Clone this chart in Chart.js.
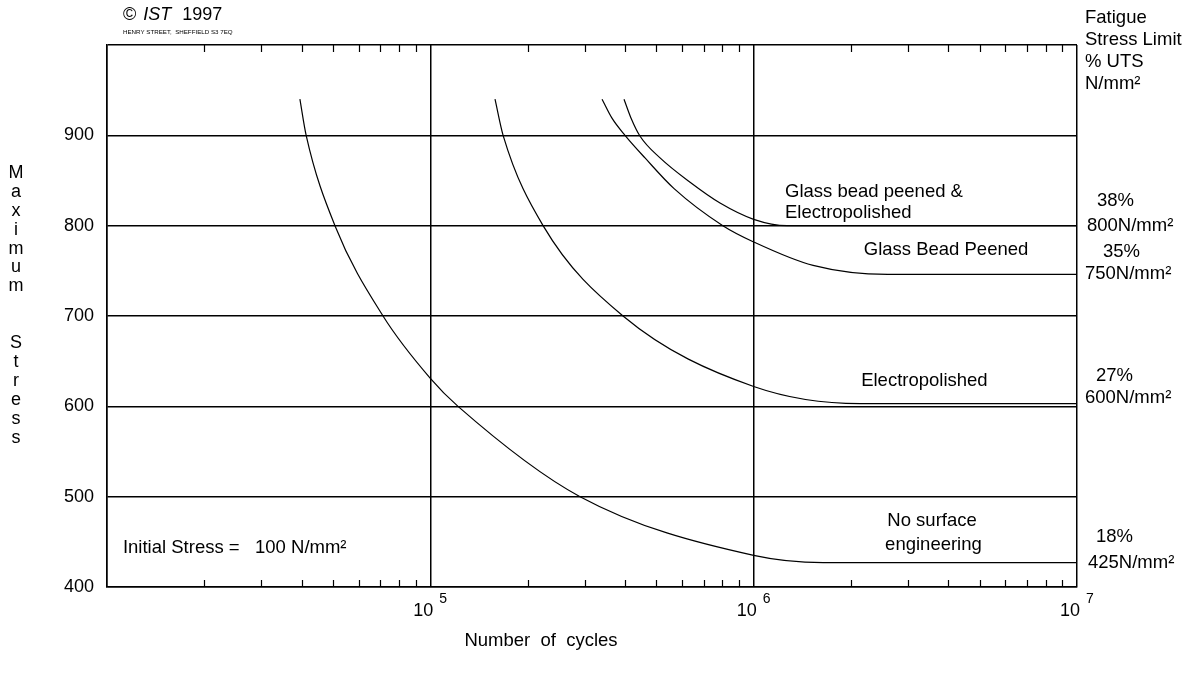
<!DOCTYPE html>
<html>
<head>
<meta charset="utf-8">
<script src="https://cdn.jsdelivr.net/npm/chart.js@4"></script>
<style>
  html, body { margin: 0; background: #fff; }
  #wrap { width: 1195px; height: 677px; }
</style>
</head>
<body>
<div id="wrap"><canvas id="fatigueChart"></canvas></div>
<script>
// S-N curves (cycles, max stress N/mm²)
const noSurfaceCycles = [39500, 41300, 50700, 71400, 100000, 121800, 290500, 1000000, 1640000, 10000000];
const noSurfaceStress = [940, 900, 800, 700, 631, 600, 500, 435, 427, 427];

const electroCycles = [158500, 167900, 223200, 394400, 1000000, 2134000, 10000000];
const electroStress = [940, 900, 800, 700, 622, 603, 603];

const peenedCycles = [339700, 364600, 400000, 461300, 567400, 803000, 1000000, 1527000, 2600000, 10000000];
const peenedStress = [940, 919, 900, 875, 841, 800, 782, 756, 746, 746];

const peenedElectroCycles = [397200, 417700, 445400, 513400, 635800, 787000, 1000000, 1268000, 10000000];
const peenedElectroStress = [940, 919, 899, 875, 848, 825, 807, 800, 800];

const yTicks = [400, 500, 600, 700, 800, 900, 1000];
const xDecades = [4, 5, 6, 7];
const minorMultipliers = [2, 3, 4, 5, 6, 7, 8, 9];

const FONT = '"Liberation Sans", Arial, sans-serif';
const TXT = 18.5;

function toPoints(xs, ys) {
    return xs.map((x, i) => ({ x: x, y: ys[i] }));
}

function curve(xs, ys) {
    return {
        data: toPoints(xs, ys),
        borderColor: '#000',
        borderWidth: 1.2,
        pointRadius: 0,
        fill: false,
        cubicInterpolationMode: 'monotone',
        showLine: true
    };
}

// Minor ticks, exponent labels and all the text around the plot
const decorPlugin = {
    id: 'decor',
    afterDraw(chart) {
        const ctx = chart.ctx;
        const xs = chart.scales.x;
        const ys = chart.scales.y;
        const area = chart.chartArea;
        ctx.save();
        ctx.strokeStyle = '#000';
        ctx.lineWidth = 1.2;

        // inward minor ticks top and bottom
        xDecades.slice(0, -1).forEach(d => {
            minorMultipliers.forEach(m => {
                const px = Math.round(xs.getPixelForValue(m * Math.pow(10, d))) + 0.5;
                ctx.beginPath();
                ctx.moveTo(px, area.bottom);
                ctx.lineTo(px, area.bottom - 7);
                ctx.moveTo(px, area.top);
                ctx.lineTo(px, area.top + 7);
                ctx.stroke();
            });
        });

        ctx.fillStyle = '#000';
        ctx.textBaseline = 'middle';

        // decade labels 10^n
        xDecades.slice(1).forEach(d => {
            const px = xs.getPixelForValue(Math.pow(10, d));
            ctx.font = '18px ' + FONT;
            ctx.textAlign = 'right';
            ctx.fillText('10', px + 3, area.bottom + 24);
            ctx.font = '14px ' + FONT;
            ctx.textAlign = 'left';
            ctx.fillText(String(d), px + 9, area.bottom + 12);
        });

        const text = (t, x, y, size, align) => {
            ctx.font = (size || TXT) + 'px ' + FONT;
            ctx.textAlign = align || 'left';
            ctx.fillText(t, x, y);
        };
        const at = (t, cx, sy) => text(t, xs.getPixelForValue(cx), ys.getPixelForValue(sy));

        // curve labels
        at('Glass bead peened &', 1250000, 837);
        at('Electropolished', 1250000, 814);
        at('Glass Bead Peened', 2190000, 773);
        at('Electropolished', 2150000, 628);
        at('No surface', 2590000, 473);
        at('engineering', 2550000, 447);
        at('Initial Stress =   100 N/mm\u00b2', 11200, 443);

        // fatigue limit labels on the right
        const r = area.right;
        text('38%', r + 20, ys.getPixelForValue(827));
        text('800N/mm\u00b2', r + 10, ys.getPixelForValue(800));
        text('35%', r + 26, ys.getPixelForValue(771));
        text('750N/mm\u00b2', r + 8, ys.getPixelForValue(747));
        text('27%', r + 19, ys.getPixelForValue(634));
        text('600N/mm\u00b2', r + 8, ys.getPixelForValue(609));
        text('18%', r + 19, ys.getPixelForValue(455));
        text('425N/mm\u00b2', r + 11, ys.getPixelForValue(427));

        // right header
        ['Fatigue', 'Stress Limit', '% UTS', 'N/mm\u00b2'].forEach((t, i) => {
            text(t, r + 8, 18 + i * 22);
        });

        // copyright
        ctx.font = '18px ' + FONT;
        ctx.textAlign = 'left';
        let cx = 123;
        ctx.fillText('\u00a9', cx, 15);
        cx += ctx.measureText('\u00a9').width + 7;
        ctx.font = 'italic 18px ' + FONT;
        ctx.fillText('IST', cx, 15);
        cx += ctx.measureText('IST').width + 11;
        ctx.font = '18px ' + FONT;
        ctx.fillText('1997', cx, 15);
        text('HENRY STREET,  SHEFFIELD S3 7EQ', 123, 32, 6.2);

        // vertical y title, one letter per line
        ctx.textAlign = 'center';
        ctx.font = '18px ' + FONT;
        'Maximum  Stress'.split('').forEach((ch, i) => {
            if (ch !== ' ') ctx.fillText(ch, 16, 173 + i * 18.9);
        });

        // x title
        text('Number  of  cycles', 541, 641, TXT, 'center');
        ctx.restore();
    }
};

new Chart(document.getElementById('fatigueChart').getContext('2d'), {
    type: 'scatter',
    data: {
        datasets: [
            curve(noSurfaceCycles, noSurfaceStress),
            curve(electroCycles, electroStress),
            curve(peenedCycles, peenedStress),
            curve(peenedElectroCycles, peenedElectroStress)
        ]
    },
    options: {
        responsive: true,
        maintainAspectRatio: false,
        animation: false,
        events: [],
        layout: { padding: { top: 45, right: 118, left: 0, bottom: 0 } },
        plugins: { legend: { display: false }, tooltip: { enabled: false } },
        scales: {
            x: {
                type: 'logarithmic',
                min: Math.pow(10, xDecades[0]),
                max: Math.pow(10, xDecades[xDecades.length - 1]),
                border: { display: true, color: '#000', width: 1.5 },
                grid: {
                    drawTicks: false,
                    lineWidth: 1.5,
                    color: (c) => {
                        const v = c.tick ? c.tick.value : 0;
                        const l = Math.log10(v);
                        return Math.abs(l - Math.round(l)) < 1e-6 ? '#000' : 'rgba(0,0,0,0)';
                    }
                },
                ticks: { display: false, autoSkip: false },
                afterFit: (s) => { s.height = 90; }
            },
            y: {
                min: yTicks[0],
                max: yTicks[yTicks.length - 1],
                afterBuildTicks: (s) => { s.ticks = yTicks.map(v => ({ value: v })); },
                border: { display: true, color: '#000', width: 1.5 },
                grid: { drawTicks: false, color: '#000', lineWidth: 1.5 },
                ticks: {
                    color: '#000',
                    padding: 13,
                    font: { family: FONT, size: 18 },
                    callback: (v) => (v === 1000 ? '' : v)
                },
                afterFit: (s) => { s.width = 107; }
            }
        }
    },
    plugins: [decorPlugin]
});
</script>
</body>
</html>
